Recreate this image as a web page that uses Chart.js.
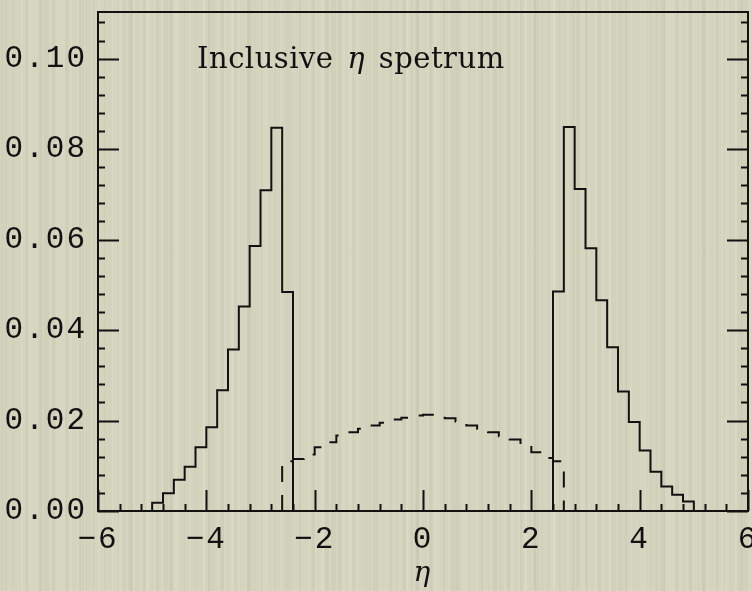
<!DOCTYPE html>
<html>
<head>
<meta charset="utf-8">
<script src="https://cdn.jsdelivr.net/npm/chart.js@4.4.0/dist/chart.umd.min.js"></script>
<style>
  html, body { margin: 0; padding: 0; }
  body {
    width: 752px; height: 591px; overflow: hidden;
    background-color: #d4d3bd;
    background-image:
      repeating-linear-gradient(90deg, rgba(255,255,248,0.10) 0 2px, rgba(0,0,0,0) 2px 7px),
      repeating-linear-gradient(90deg, rgba(110,108,80,0.05) 0 3px, rgba(0,0,0,0) 3px 13px),
      repeating-linear-gradient(90deg, rgba(255,255,245,0.07) 0 5px, rgba(0,0,0,0) 5px 29px),
      repeating-linear-gradient(90deg, rgba(120,118,90,0.04) 0 9px, rgba(0,0,0,0) 9px 41px);
  }
  #wrap { position: relative; width: 752px; height: 591px; }
  #title {
    position: absolute; left: 197px; top: 44px;
    font-family: "DejaVu Serif"; font-size: 29px; line-height: 29px;
    letter-spacing: 0.5px; word-spacing: 4px;
    color: #111; white-space: nowrap;
  }
</style>
</head>
<body>
<div id="wrap">
  <canvas id="etaChart"></canvas>
  <div id="title">Inclusive <i>η</i> spetrum</div>
</div>
<script>
// axis ticks
const xTicks = [-6, -4, -2, 0, 2, 4, 6];
const yTicks = [0, 0.02, 0.04, 0.06, 0.08, 0.10];

// forward peak, negative eta (bin edges, then contents)
const negEdges = [-5.0, -4.8, -4.6, -4.4, -4.2, -4.0, -3.8, -3.6, -3.4, -3.2, -3.0, -2.8, -2.6, -2.4];
const negValues = [0.0018, 0.0039, 0.0069, 0.0098, 0.0141, 0.0185, 0.0267, 0.0357, 0.0452, 0.0586, 0.0709, 0.0847, 0.0484];

// forward peak, positive eta
const posEdges = [2.4, 2.6, 2.8, 3.0, 3.2, 3.4, 3.6, 3.8, 4.0, 4.2, 4.4, 4.6, 4.8, 5.0];
const posValues = [0.0485, 0.0849, 0.0712, 0.0581, 0.0466, 0.0362, 0.0264, 0.0197, 0.0134, 0.0087, 0.0054, 0.0036, 0.0021];

// central region (dashed)
const midEdges = [-2.6, -2.4, -2.2, -2.0, -1.8, -1.6, -1.4, -1.2, -1.0, -0.8, -0.6, -0.4, -0.2, 0.0,
                  0.2, 0.4, 0.6, 0.8, 1.0, 1.2, 1.4, 1.6, 1.8, 2.0, 2.2, 2.4, 2.6];
const midValues = [0.0110, 0.0115, 0.0125, 0.0141, 0.0152, 0.0167, 0.0174, 0.0182, 0.0189, 0.0195, 0.0202, 0.0206, 0.0211,
                   0.0213, 0.0209, 0.0205, 0.0198, 0.0189, 0.0182, 0.0174, 0.0165, 0.0158, 0.0146, 0.0130, 0.0117, 0.0110];

// step outline: rise at first edge, flat tops, drop at last edge
function histPoints(edges, values) {
  const pts = [{ x: edges[0], y: 0 }];
  values.forEach((v, i) => pts.push({ x: edges[i], y: v }));
  pts.push({ x: edges[edges.length - 1], y: 0 });
  return pts;
}

const ink = "#111";

// box around the plot with inward major/minor ticks
const frameTicks = {
  id: "frameTicks",
  beforeDraw(chart) {
    // wider tick-label lettering
    chart.ctx.letterSpacing = "2px";
  },
  afterDatasetsDraw(chart) {
    const { ctx, chartArea: a, scales: { x, y } } = chart;
    ctx.save();
    ctx.strokeStyle = ink;
    ctx.lineWidth = 2;
    ctx.strokeRect(a.left, a.top, a.right - a.left, a.bottom - a.top);
    ctx.beginPath();
    for (let i = 0; i <= 30; i++) {
      const v = -6 + i * 0.4;
      const px = Math.round(x.getPixelForValue(v)) + 0.5;
      const len = i % 5 === 0 ? 21 : 7;
      ctx.moveTo(px, a.bottom);
      ctx.lineTo(px, a.bottom - len);
    }
    for (let i = 0; i <= 27; i++) {
      const v = i * 0.004;
      const py = Math.round(y.getPixelForValue(v)) + 0.5;
      const len = i % 5 === 0 ? 21 : 7;
      ctx.moveTo(a.left, py);
      ctx.lineTo(a.left + len, py);
      ctx.moveTo(a.right, py);
      ctx.lineTo(a.right - len, py);
    }
    ctx.stroke();
    ctx.restore();
  },
  afterDraw(chart) {
    chart.ctx.letterSpacing = "0px";
  }
};

const tickFont = { family: "Liberation Mono", size: 31 };

new Chart(document.getElementById("etaChart"), {
  type: "line",
  data: {
    datasets: [
      {
        data: histPoints(midEdges, midValues),
        borderColor: ink, borderWidth: 2, borderDash: [16, 13],
        stepped: "before", pointRadius: 0, fill: false
      },
      {
        data: histPoints(negEdges, negValues),
        borderColor: ink, borderWidth: 2,
        stepped: "before", pointRadius: 0, fill: false
      },
      {
        data: histPoints(posEdges, posValues),
        borderColor: ink, borderWidth: 2,
        stepped: "before", pointRadius: 0, fill: false
      }
    ]
  },
  options: {
    responsive: true,
    maintainAspectRatio: false,
    animation: false,
    layout: { padding: { top: 12, right: 4, left: 0, bottom: 0 } },
    plugins: { legend: { display: false }, tooltip: { enabled: false } },
    scales: {
      x: {
        type: "linear", min: -6, max: 6,
        grid: { display: false, drawTicks: false },
        border: { display: false },
        afterBuildTicks: s => { s.ticks = xTicks.map(v => ({ value: v })); },
        afterFit: s => { s.height = 80; s.paddingLeft = 0; s.paddingRight = 0; },
        ticks: {
          font: tickFont, color: ink, padding: 10, maxRotation: 0, autoSkip: false,
          callback: v => (v < 0 ? "\u2212" + Math.abs(v) : String(v))
        },
        title: {
          display: true, text: "η", color: ink, padding: 0,
          font: { family: "DejaVu Serif", style: "italic", size: 28 }
        }
      },
      y: {
        min: 0, max: 0.1103,
        grid: { display: false, drawTicks: false },
        border: { display: false },
        afterBuildTicks: s => { s.ticks = yTicks.map(v => ({ value: v })); },
        afterFit: s => { s.width = 98; s.paddingTop = 0; s.paddingBottom = 0; },
        ticks: {
          font: tickFont, color: ink, padding: 11,
          callback: v => v.toFixed(2)
        }
      }
    }
  },
  plugins: [frameTicks]
});
</script>
</body>
</html>
